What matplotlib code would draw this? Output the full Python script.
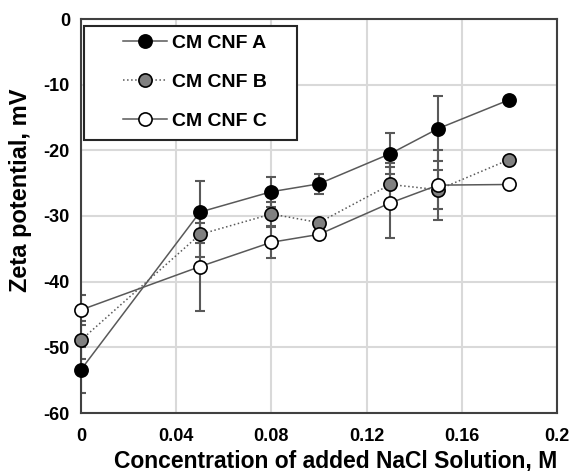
import matplotlib
matplotlib.use("Agg")
import matplotlib.pyplot as plt
from matplotlib.patches import Rectangle

plt.rcParams['font.family'] = ['Liberation Sans', 'DejaVu Sans']
plt.rcParams['font.weight'] = 'bold'
plt.rcParams['axes.unicode_minus'] = False

conc = [0, 0.05, 0.08, 0.10, 0.13, 0.15, 0.18]
zeta_a = [-53.4, -29.4, -26.3, -25.1, -20.5, -16.7, -12.3]
zeta_b = [-48.9, -32.8, -29.7, -31.0, -25.2, -26.0, -21.4]
zeta_c = [-44.3, -37.7, -34.0, -32.8, -28.0, -25.3, -25.2]
err_a = [3.5, 4.7, 2.3, 1.5, 3.1, 4.9, 0.0]
err_b = [2.9, 3.5, 1.8, 0.0, 3.2, 3.0, 0.0]
err_c = [2.3, 6.7, 2.4, 0.0, 5.4, 5.3, 0.0]
labels = ['CM CNF A', 'CM CNF B', 'CM CNF C']
xticks = [0, 0.04, 0.08, 0.12, 0.16, 0.2]
xticklabels = ['0', '0.04', '0.08', '0.12', '0.16', '0.2']
yticks = [0, -10, -20, -30, -40, -50, -60]

W, H = 573, 471
fig = plt.figure(figsize=(W/100, H/100), dpi=100)
ax = fig.add_axes([81/W, 1-413/H, (557-81)/W, (413-19)/H])

line_col = '#595959'
err_col = '#595959'
series = [
    (zeta_a, err_a, '-', 'black'),
    (zeta_b, err_b, ':', '#808080'),
    (zeta_c, err_c, '-', 'white'),
]
handles = []
for (vals, errs, ls, fc), lab in zip(series, labels):
    ax.errorbar(conc, vals, yerr=errs, fmt='none', ecolor=err_col,
                elinewidth=1.5, capsize=3.5, capthick=1.5, zorder=2)
for (vals, errs, ls, fc), lab in zip(series, labels):
    h, = ax.plot(conc, vals, linestyle=ls, color=line_col, linewidth=1.1,
                 marker='o', markersize=9.5, markerfacecolor=fc,
                 markeredgecolor='black', markeredgewidth=1.2,
                 label=lab, zorder=3, clip_on=False)
    handles.append(h)

ax.set_xlim(0, 0.2)
ax.set_ylim(-60, 0)
ax.set_xticks(xticks)
ax.set_xticklabels(xticklabels)
ax.set_yticks(yticks)
ax.tick_params(axis='x', length=0, labelsize=13, pad=11)
ax.tick_params(axis='y', length=0, labelsize=13, pad=8)
for lab in ax.get_xticklabels() + ax.get_yticklabels():
    lab.set_fontweight('bold')
ax.grid(True, color='#d9d9d9', linewidth=1.5)
ax.set_axisbelow(True)
for s in ax.spines.values():
    s.set_color('#404040')
    s.set_linewidth(1.5)

ax.set_xlabel('Concentration of added NaCl Solution, M', fontsize=16.5,
              fontweight='bold')
ax.set_ylabel('Zeta potential, mV', fontsize=17, fontweight='bold')
ax.xaxis.set_label_coords((336-81)/476, -(461-413)/394)
ax.yaxis.set_label_coords(-(81-20)/476, (413-190)/394)
ax.xaxis.label.set_va('center')
ax.yaxis.label.set_va('center')

# legend frame (pixel box of reference)
fig.patches.append(Rectangle((84/W, 1-140/H), (297-84)/W, (140-26)/H,
                             transform=fig.transFigure, facecolor='white',
                             edgecolor='#262626', linewidth=1.5, zorder=4))
leg = fig.legend(handles=handles, labels=labels, loc='upper left',
                 bbox_to_anchor=(123/W, 1-34/H), borderaxespad=0,
                 borderpad=0, frameon=False, fontsize=14,
                 handlelength=2.27, labelspacing=1.1, handletextpad=0.25)
leg.set_zorder(5)
for t in leg.get_texts():
    t.set_fontweight('bold')

fig.savefig('out.png', dpi=100)
